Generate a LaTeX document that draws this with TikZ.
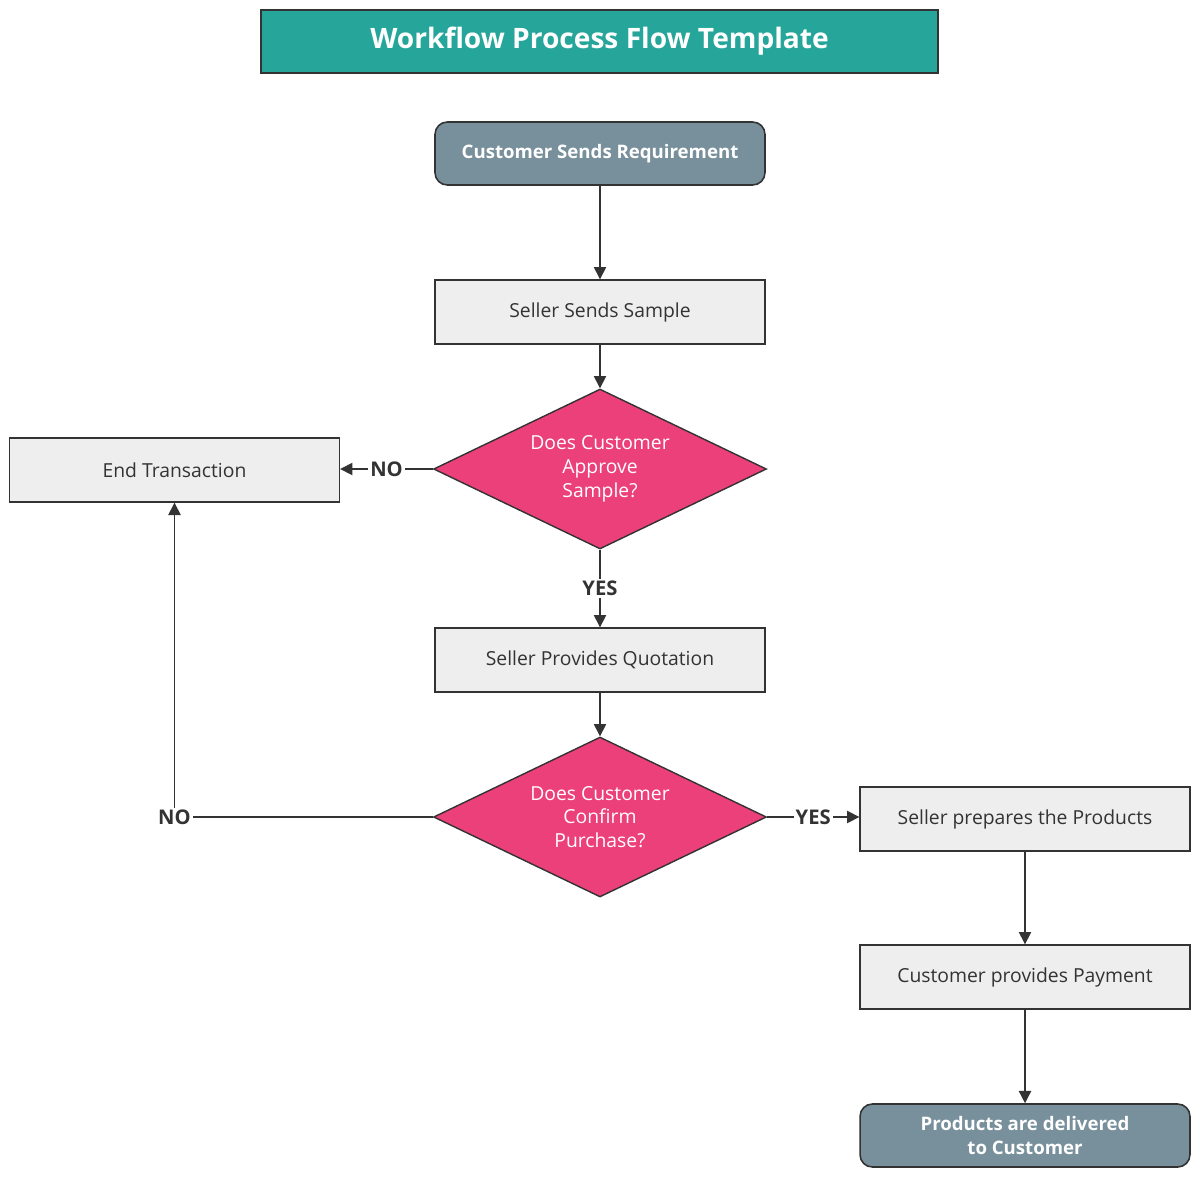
\documentclass[tikz,border=0pt]{standalone}
\usepackage{fontspec}
\setmainfont{Open Sans}
\usetikzlibrary{shapes.geometric,arrows.meta}

\definecolor{titleteal}{HTML}{26A69A}
\definecolor{termslate}{HTML}{78909C}
\definecolor{decpink}{HTML}{EC407A}
\definecolor{stepgray}{HTML}{EEEEEE}
\definecolor{linedark}{HTML}{333333}

\tikzset{
  titlebox/.style={draw=linedark, line width=1pt, fill=titleteal, text=white,
    minimum width=13.54cm, minimum height=1.26cm, font=\fontsize{16}{19}\selectfont\bfseries},
  termbox/.style={draw=linedark, line width=0.9pt, fill=termslate, text=white, rounded corners=7pt,
    minimum width=6.6cm, minimum height=1.26cm, align=center, font=\fontsize{10.6}{13.5}\selectfont\bfseries},
  stepbox/.style={draw=linedark, line width=0.8pt, fill=stepgray, text=linedark,
    minimum width=6.6cm, minimum height=1.28cm, font=\fontsize{11}{13.5}\selectfont},
  decbox/.style={diamond, aspect=2.6, draw=linedark, line width=0.8pt, fill=decpink, text=white, inner sep=0pt,
    minimum width=6.66cm, minimum height=3.2cm, align=center, font=\fontsize{11}{13.5}\selectfont},
  flow/.style={draw=linedark, line width=0.8pt, -{Triangle[length=7pt,width=7pt]}},
  lbl/.style={fill=white, inner sep=1pt, text=linedark, font=\fontsize{11.5}{13}\selectfont\bfseries}
}

\begin{document}
\begin{tikzpicture}[x=0.02cm, y=-0.02cm]
    \useasboundingbox (0,0) rectangle (1200,1177);

    % Title bar
    \node[titlebox] (title) at (599.5,41.5) {Workflow Process Flow Template};

    % Main column
    \node[termbox] (req) at (600,153.5) {Customer Sends Requirement};
    \node[stepbox] (sample) at (600,312) {Seller Sends Sample};
    \node[decbox] (approve) at (600,469) {Does Customer\\Approve\\Sample?};
    \node[stepbox] (quote) at (600,660) {Seller Provides Quotation};
    \node[decbox] (confirm) at (600,817) {Does Customer\\Confirm\\Purchase?};

    % Left branch
    \node[stepbox] (endt) at (174.5,470) {End Transaction};

    % Right column
    \node[stepbox] (prep) at (1025,819) {Seller prepares the Products};
    \node[stepbox] (pay) at (1025,977) {Customer provides Payment};
    \node[termbox] (deliv) at (1025,1135.5) {Products are delivered\\to Customer};

    % Connectors
    \draw[flow] (req) -- (sample);
    \draw[flow] (sample) -- (approve);
    \draw[flow] (approve.west) -- node[lbl] {NO} (endt.east |- approve.west);
    \draw[flow] (approve) -- node[lbl] {YES} (quote);
    \draw[flow] (quote) -- (confirm);
    \draw[flow] (confirm.west) -- (confirm.west -| endt) node[lbl] {NO} -- (endt);
    \draw[flow] (confirm.east) -- node[lbl] {YES} (prep.west |- confirm.east);
    \draw[flow] (prep) -- (pay);
    \draw[flow] (pay) -- (deliv);
\end{tikzpicture}
\end{document}
